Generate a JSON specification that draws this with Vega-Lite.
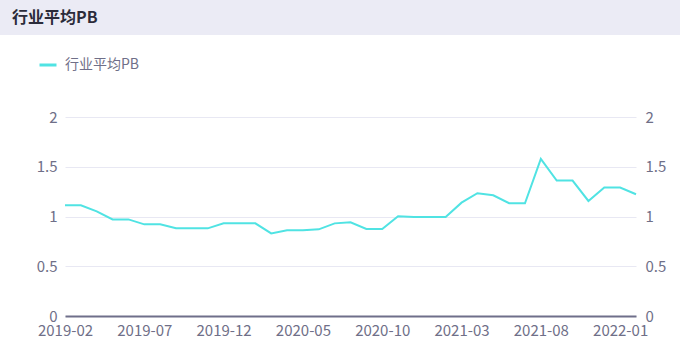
{
  "$schema": "https://vega.github.io/schema/vega-lite/v6.json",
  "padding": 0,
  "spacing": 0,
  "background": "#ffffff",
  "config": {
    "view": {"stroke": null},
    "font": "Noto Sans CJK SC"
  },
  "resolve": {"scale": {"color": "independent"}, "legend": {"color": "independent"}},
  "vconcat": [
    {
      "width": 680,
      "height": 35,
      "view": {"fill": "#ebebf5", "stroke": null},
      "title": {
        "text": "行业平均PB",
        "anchor": "start",
        "orient": "top",
        "offset": -25.5,
        "dx": 12,
        "fontSize": 16,
        "fontWeight": "bold",
        "color": "#2b2b3a",
        "font": "Noto Sans CJK SC"
      },
      "data": {"values": [{"t": 1}]},
      "mark": {"type": "rect", "color": "#ebebf5"},
      "encoding": {}
    },
    {
      "width": 636,
      "height": 281,
      "data": {
        "values": [
          {"month": "2019-02", "pb": 1.113},
          {"month": "2019-03", "pb": 1.113},
          {"month": "2019-04", "pb": 1.052},
          {"month": "2019-05", "pb": 0.971},
          {"month": "2019-06", "pb": 0.971},
          {"month": "2019-07", "pb": 0.921},
          {"month": "2019-08", "pb": 0.921},
          {"month": "2019-09", "pb": 0.881},
          {"month": "2019-10", "pb": 0.881},
          {"month": "2019-11", "pb": 0.881},
          {"month": "2019-12", "pb": 0.931},
          {"month": "2020-01", "pb": 0.931},
          {"month": "2020-02", "pb": 0.931},
          {"month": "2020-03", "pb": 0.830},
          {"month": "2020-04", "pb": 0.861},
          {"month": "2020-05", "pb": 0.861},
          {"month": "2020-06", "pb": 0.871},
          {"month": "2020-07", "pb": 0.931},
          {"month": "2020-08", "pb": 0.941},
          {"month": "2020-09", "pb": 0.874},
          {"month": "2020-10", "pb": 0.874},
          {"month": "2020-11", "pb": 1.002},
          {"month": "2020-12", "pb": 0.995},
          {"month": "2021-01", "pb": 0.995},
          {"month": "2021-02", "pb": 0.995},
          {"month": "2021-03", "pb": 1.139},
          {"month": "2021-04", "pb": 1.234},
          {"month": "2021-05", "pb": 1.213},
          {"month": "2021-06", "pb": 1.133},
          {"month": "2021-07", "pb": 1.133},
          {"month": "2021-08", "pb": 1.580},
          {"month": "2021-09", "pb": 1.361},
          {"month": "2021-10", "pb": 1.361},
          {"month": "2021-11", "pb": 1.156},
          {"month": "2021-12", "pb": 1.291},
          {"month": "2022-01", "pb": 1.291},
          {"month": "2022-02", "pb": 1.224}
        ]
      },
      "encoding": {
        "x": {
          "field": "month",
          "type": "ordinal",
          "sort": null,
          "scale": {"type": "point", "padding": 0, "range": [65, 636]},
          "axis": {
            "title": null,
            "values": ["2019-02", "2019-07", "2019-12", "2020-05", "2020-10", "2021-03", "2021-08", "2022-01"],
            "labelAngle": 0,
            "ticks": false,
            "grid": false,
            "domainColor": "#6f6f8a",
            "domainWidth": 2,
            "labelColor": "#6f6f88",
            "labelFontSize": 15,
            "labelPadding": 7,
            "labelOverlap": false,
            "labelFlush": false
          }
        }
      },
      "layer": [
        {
          "mark": {"type": "line", "strokeWidth": 2},
          "encoding": {
            "y": {
              "field": "pb",
              "type": "quantitative",
              "scale": {"domain": [0, 2], "nice": false, "zero": true, "range": [281, 82]},
              "axis": {
                "title": null,
                "orient": "left",
                "offset": -65,
                "values": [0, 0.5, 1, 1.5, 2],
                "format": "~g",
                "domain": false,
                "ticks": false,
                "gridColor": "#e8e8f3",
                "gridWidth": 1,
                "labelColor": "#6f6f88",
                "labelFontSize": 15,
                "labelPadding": 8,
                "minExtent": 0
              }
            },
            "color": {
              "datum": "行业平均PB",
              "scale": {"range": ["#50e3e3"]},
              "legend": {
                "title": null,
                "orient": "none",
                "legendX": 38,
                "legendY": 20,
                "padding": 0,
                "symbolType": "stroke",
                "symbolSize": 289,
                "symbolStrokeWidth": 3,
                "labelFontSize": 14,
                "labelColor": "#6f6f88",
                "labelOffset": 7
              }
            }
          }
        },
        {
          "mark": {"type": "line", "strokeWidth": 2, "strokeOpacity": 0},
          "encoding": {
            "y": {
              "field": "pb",
              "type": "quantitative",
              "scale": {"domain": [0, 2], "nice": false, "zero": true, "range": [281, 82]},
              "axis": {
                "title": null,
                "orient": "right",
                "values": [0, 0.5, 1, 1.5, 2],
                "format": "~g",
                "domain": false,
                "ticks": false,
                "grid": false,
                "labelColor": "#6f6f88",
                "labelFontSize": 15,
                "labelPadding": 9,
                "minExtent": 0
              }
            }
          }
        }
      ],
      "resolve": {"axis": {"y": "independent"}}
    }
  ]
}
